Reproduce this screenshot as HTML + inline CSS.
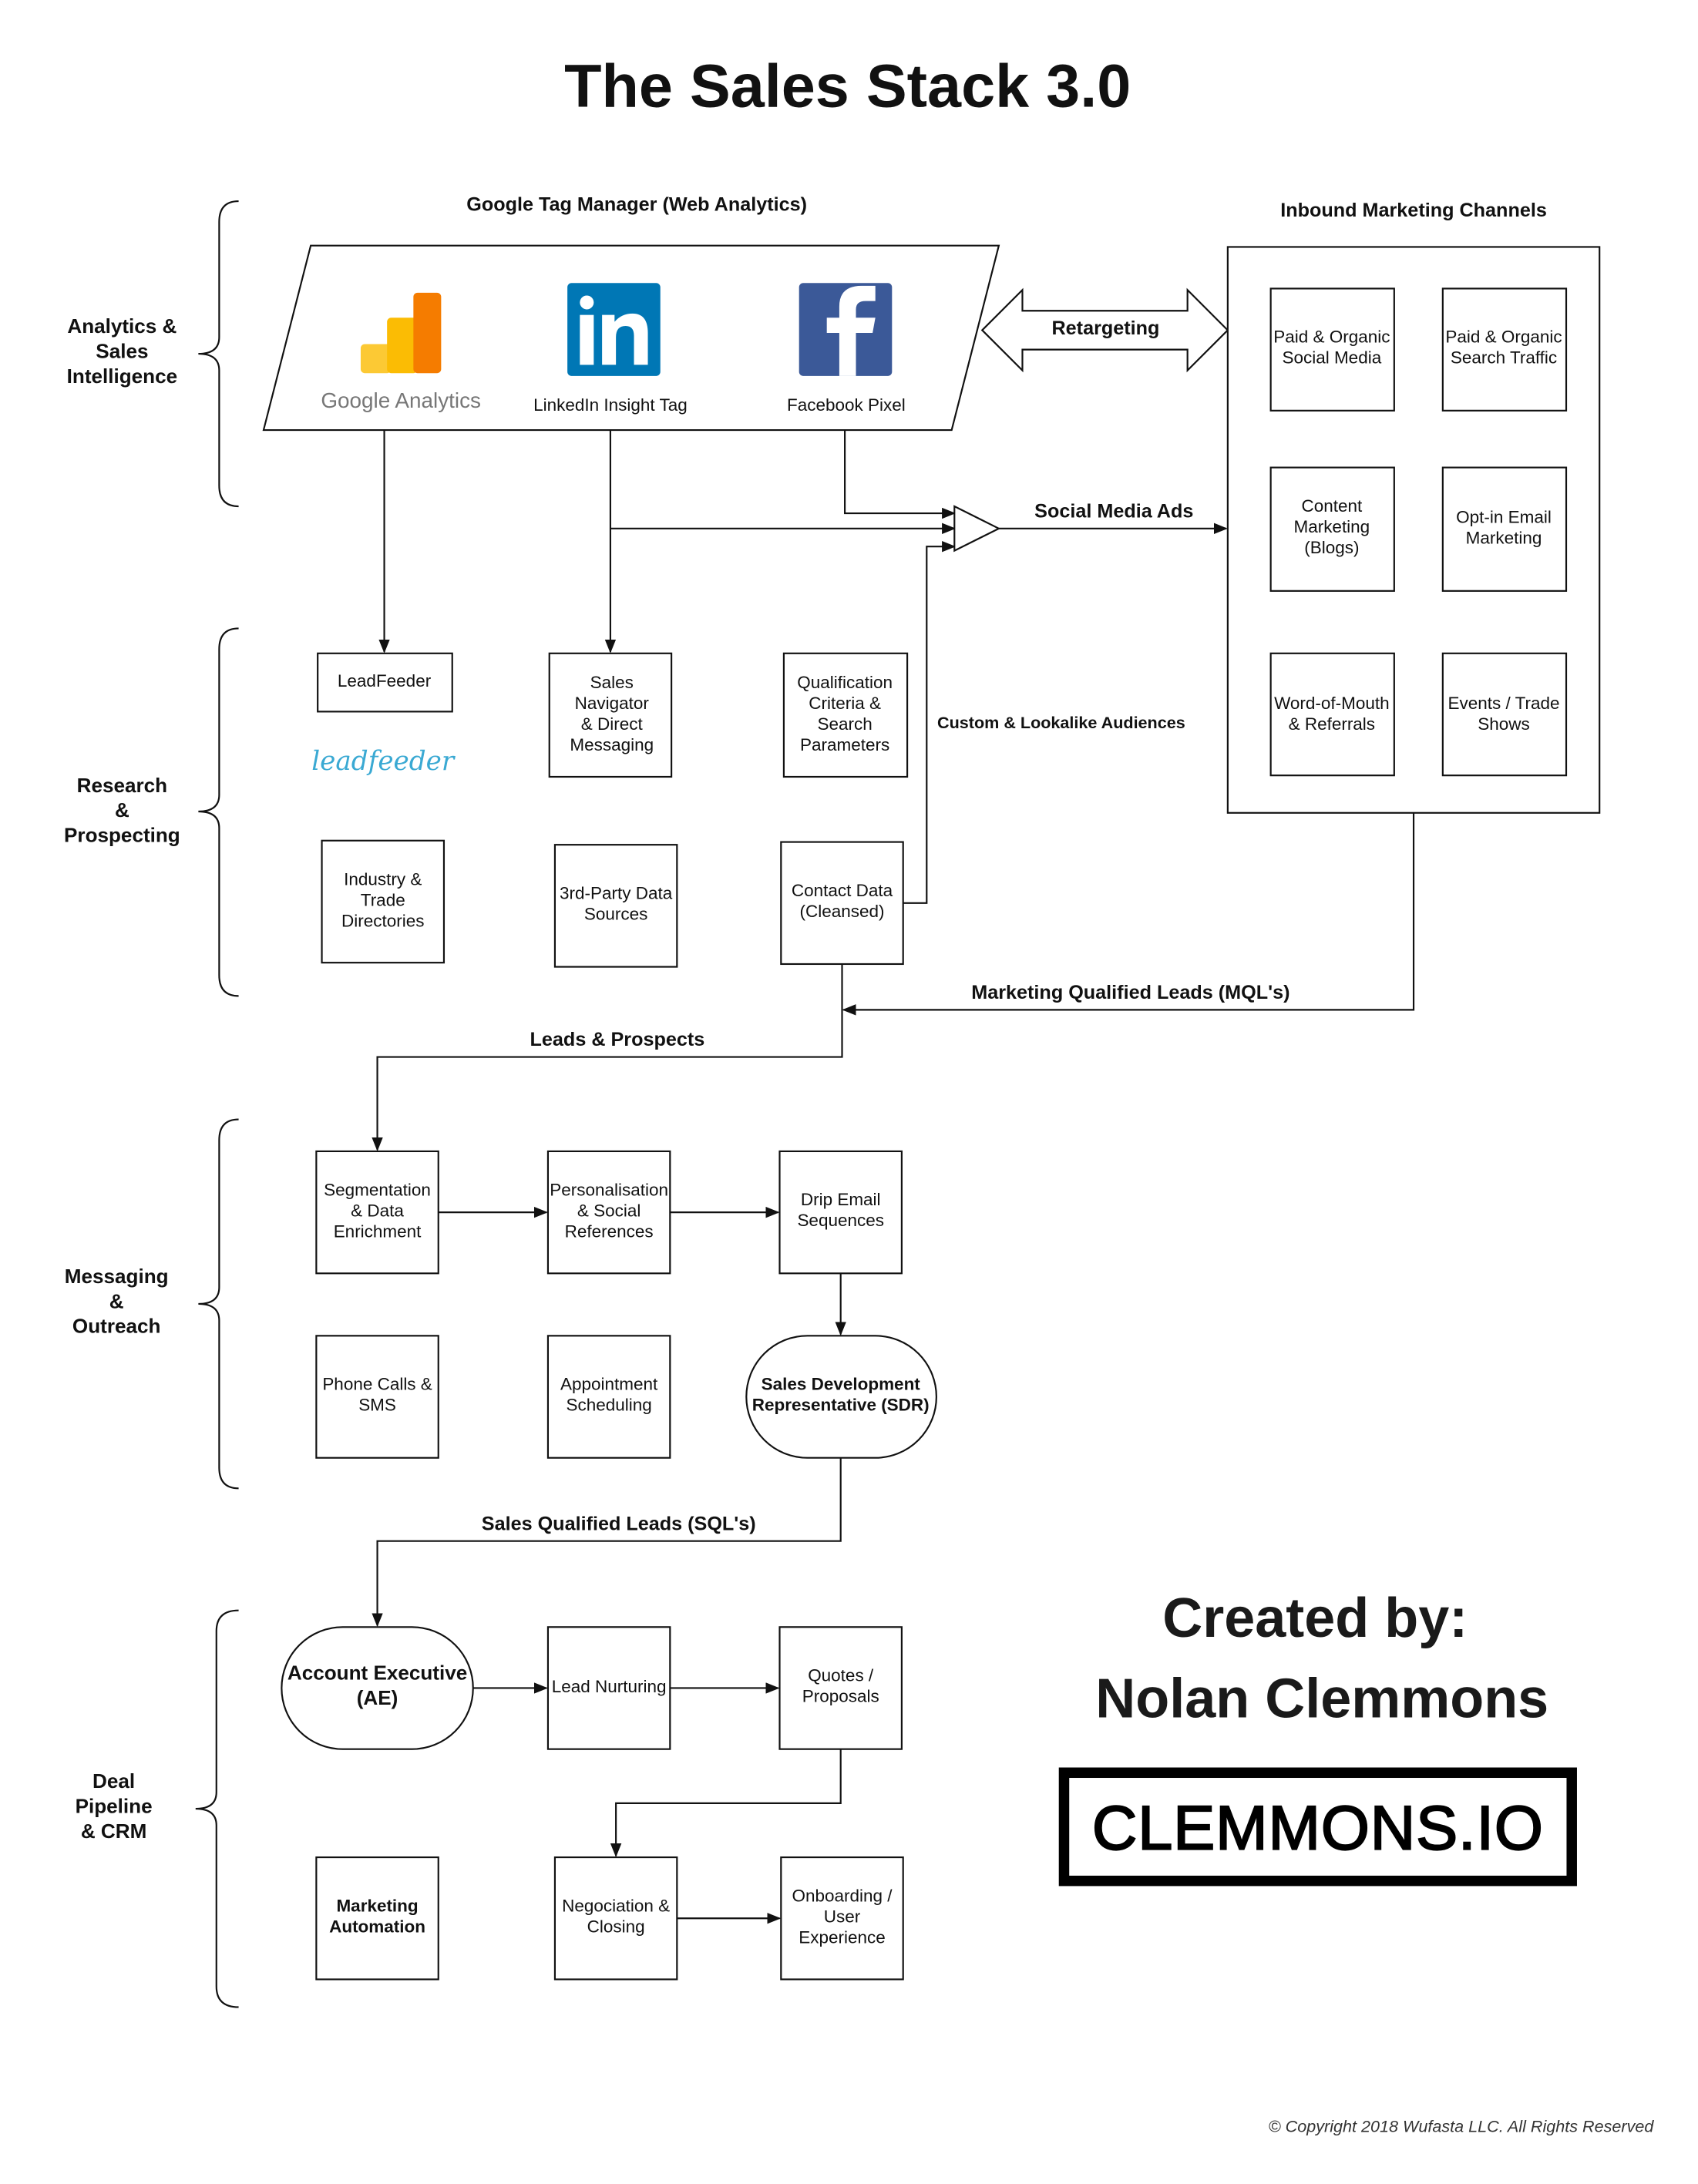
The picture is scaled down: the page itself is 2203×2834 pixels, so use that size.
<!DOCTYPE html>
<html><head><meta charset="utf-8"><style>
html,body{margin:0;padding:0;background:#fff}
svg{display:block}
text{font-family:"Liberation Sans",Arial,sans-serif;fill:#111}
.b{font-weight:bold}
.s{font-size:12.5px}
.box{fill:#fff;stroke:#111;stroke-width:1.2}
.ln{fill:none;stroke:#111;stroke-width:1.2}
</style></head><body>
<svg width="2203" height="2834" viewBox="0 0 1224 1574.5" xmlns="http://www.w3.org/2000/svg">
<defs><marker id="a" markerWidth="10" markerHeight="8" refX="9" refY="4" orient="auto" markerUnits="userSpaceOnUse"><path d="M0,0 L10,4 L0,8 z" fill="#111"/></marker></defs>
<rect width="1224" height="1575" fill="#fff"/>
<text x="611" y="77" text-anchor="middle" class="b" font-size="44">The Sales Stack 3.0</text>

<g class="ln" stroke-width="1.3">
<path d="M172,145 Q158,145 158,160 L158,243 Q158,255 143,255 Q158,255 158,267 L158,350 Q158,365 172,365"/>
<path d="M172,453 Q158,453 158,468 L158,573 Q158,585 143,585 Q158,585 158,597 L158,703 Q158,718 172,718"/>
<path d="M172,807 Q158,807 158,822 L158,928 Q158,940 143,940 Q158,940 158,952 L158,1058 Q158,1073 172,1073"/>
<path d="M172,1161 Q156,1161 156,1176 L156,1292 Q156,1304 141,1304 Q156,1304 156,1316 L156,1432 Q156,1447 172,1447"/>
</g>
<g class="b" font-size="14.5" text-anchor="middle">
<text x="88" y="240">Analytics &amp;</text><text x="88" y="258">Sales</text><text x="88" y="276">Intelligence</text>
<text x="88" y="571">Research</text><text x="88" y="589">&amp;</text><text x="88" y="607">Prospecting</text>
<text x="84" y="925">Messaging</text><text x="84" y="943">&amp;</text><text x="84" y="961">Outreach</text>
<text x="82" y="1289">Deal</text><text x="82" y="1307">Pipeline</text><text x="82" y="1325">&amp; CRM</text>
</g>

<text x="459" y="152" text-anchor="middle" class="b" font-size="14">Google Tag Manager (Web Analytics)</text>
<path d="M224,177 L720,177 L686,310 L190,310 Z" class="box" stroke-width="1.5"/>
<rect x="260" y="248" width="22" height="21" rx="3" fill="#fcc934"/>
<rect x="279" y="229" width="22" height="40" rx="3" fill="#fbbc04"/>
<rect x="298" y="211" width="20" height="58" rx="3" fill="#f57c00"/>
<text x="289" y="294" text-anchor="middle" font-size="15.5" style="fill:#777">Google Analytics</text>
<rect x="409" y="204" width="67" height="67" rx="3" fill="#0077B5"/>
<circle cx="423" cy="218" r="5" fill="#fff"/>
<rect x="418" y="227" width="10" height="36" fill="#fff"/>
<path d="M434,227 h9 v5 q5,-6 13,-6 q11,0 11,14 v23 h-10 v-21 q0,-7 -6,-7 q-7,0 -7,8 v20 h-10 z" fill="#fff"/>
<text x="440" y="296" text-anchor="middle" class="s">LinkedIn Insight Tag</text>
<rect x="576" y="204" width="67" height="67" rx="3" fill="#3B5998"/>
<path d="M605,271 v-31 h-9 v-11 h9 v-8 q0,-15 16,-15 h10 v11 h-7 q-7,0 -7,6 v6 h14 l-2,11 h-12 v31 z" fill="#fff"/>
<text x="610" y="296" text-anchor="middle" class="s">Facebook Pixel</text>

<path d="M708,238 L737,209 L737,224 L856,224 L856,209 L885,238 L856,267 L856,252 L737,252 L737,267 Z" class="box"/>
<text x="797" y="241" text-anchor="middle" class="b" font-size="14">Retargeting</text>

<text x="1019" y="156" text-anchor="middle" class="b" font-size="14">Inbound Marketing Channels</text>
<rect x="885" y="178" width="268" height="408" class="box"/>
<g class="box">
<rect x="916" y="208" width="89" height="88"/><rect x="1040" y="208" width="89" height="88"/>
<rect x="916" y="337" width="89" height="89"/><rect x="1040" y="337" width="89" height="89"/>
<rect x="916" y="471" width="89" height="88"/><rect x="1040" y="471" width="89" height="88"/>
</g>
<g class="s" text-anchor="middle">
<text x="960" y="247">Paid &amp; Organic</text><text x="960" y="262">Social Media</text>
<text x="1084" y="247">Paid &amp; Organic</text><text x="1084" y="262">Search Traffic</text>
<text x="960" y="369">Content</text><text x="960" y="384">Marketing</text><text x="960" y="399">(Blogs)</text>
<text x="1084" y="377">Opt-in Email</text><text x="1084" y="392">Marketing</text>
<text x="960" y="511">Word-of-Mouth</text><text x="960" y="526">&amp; Referrals</text>
<text x="1084" y="511">Events / Trade</text><text x="1084" y="526">Shows</text>
</g>

<g class="ln">
<path d="M277,310 V470" marker-end="url(#a)"/>
<path d="M440,310 V470" marker-end="url(#a)"/>
<path d="M440,381 H688" marker-end="url(#a)"/>
<path d="M609,310 V370 H688" marker-end="url(#a)"/>
<path d="M720,381 H884" marker-end="url(#a)"/>
<path d="M651,651 H668 V394 H688" marker-end="url(#a)"/>
<path d="M1019,586 V728 H608" marker-end="url(#a)"/>
<path d="M607,695 V762 H272 V829" marker-end="url(#a)"/>
</g>
<path d="M688,365 L688,397 L720,381 Z" class="box"/>
<text x="803" y="373" text-anchor="middle" class="b" font-size="14">Social Media Ads</text>
<text x="765" y="525" text-anchor="middle" class="b" font-size="12">Custom &amp; Lookalike Audiences</text>
<text x="815" y="720" text-anchor="middle" class="b" font-size="14">Marketing Qualified Leads (MQL's)</text>
<text x="445" y="754" text-anchor="middle" class="b" font-size="14">Leads &amp; Prospects</text>

<g class="box">
<rect x="229" y="471" width="97" height="42"/>
<rect x="396" y="471" width="88" height="89"/>
<rect x="565" y="471" width="89" height="89"/>
<rect x="232" y="606" width="88" height="88"/>
<rect x="400" y="609" width="88" height="88"/>
<rect x="563" y="607" width="88" height="88"/>
</g>
<g class="s" text-anchor="middle">
<text x="277" y="495">LeadFeeder</text>
<text x="441" y="496">Sales</text><text x="441" y="511">Navigator</text><text x="441" y="526">&amp; Direct</text><text x="441" y="541">Messaging</text>
<text x="609" y="496">Qualification</text><text x="609" y="511">Criteria &amp;</text><text x="609" y="526">Search</text><text x="609" y="541">Parameters</text>
<text x="276" y="638">Industry &amp;</text><text x="276" y="653">Trade</text><text x="276" y="668">Directories</text>
<text x="444" y="648">3rd-Party Data</text><text x="444" y="663">Sources</text>
<text x="607" y="646">Contact Data</text><text x="607" y="661">(Cleansed)</text>
</g>
<text x="276" y="555" text-anchor="middle" font-size="19" font-style="italic" style="fill:#3aa9d3;font-family:'DejaVu Serif',serif">leadfeeder</text>

<g class="box">
<rect x="228" y="830" width="88" height="88"/>
<rect x="395" y="830" width="88" height="88"/>
<rect x="562" y="830" width="88" height="88"/>
<rect x="228" y="963" width="88" height="88"/>
<rect x="395" y="963" width="88" height="88"/>
<rect x="538" y="963" width="137" height="88" rx="44"/>
</g>
<g class="ln">
<path d="M316,874 H394" marker-end="url(#a)"/>
<path d="M483,874 H561" marker-end="url(#a)"/>
<path d="M606,918 V962" marker-end="url(#a)"/>
<path d="M606,1051 V1111 H272 V1172" marker-end="url(#a)"/>
</g>
<g class="s" text-anchor="middle">
<text x="272" y="862">Segmentation</text><text x="272" y="877">&amp; Data</text><text x="272" y="892">Enrichment</text>
<text x="439" y="862">Personalisation</text><text x="439" y="877">&amp; Social</text><text x="439" y="892">References</text>
<text x="606" y="869">Drip Email</text><text x="606" y="884">Sequences</text>
<text x="272" y="1002">Phone Calls &amp;</text><text x="272" y="1017">SMS</text>
<text x="439" y="1002">Appointment</text><text x="439" y="1017">Scheduling</text>
<text x="606" y="1002" class="b">Sales Development</text><text x="606" y="1017" class="b">Representative (SDR)</text>
</g>
<text x="446" y="1103" text-anchor="middle" class="b" font-size="14">Sales Qualified Leads (SQL's)</text>

<g class="box">
<rect x="203" y="1173" width="138" height="88" rx="44"/>
<rect x="395" y="1173" width="88" height="88"/>
<rect x="562" y="1173" width="88" height="88"/>
<rect x="228" y="1339" width="88" height="88"/>
<rect x="400" y="1339" width="88" height="88"/>
<rect x="563" y="1339" width="88" height="88"/>
</g>
<g class="ln">
<path d="M341,1217 H394" marker-end="url(#a)"/>
<path d="M483,1217 H561" marker-end="url(#a)"/>
<path d="M606,1261 V1300 H444 V1338" marker-end="url(#a)"/>
<path d="M488,1383 H562" marker-end="url(#a)"/>
</g>
<text x="272" y="1211" text-anchor="middle" class="b" font-size="14.5">Account Executive</text>
<text x="272" y="1229" text-anchor="middle" class="b" font-size="14.5">(AE)</text>
<g class="s" text-anchor="middle">
<text x="439" y="1220">Lead Nurturing</text>
<text x="606" y="1212">Quotes /</text><text x="606" y="1227">Proposals</text>
<text x="272" y="1378" class="b">Marketing</text><text x="272" y="1393" class="b">Automation</text>
<text x="444" y="1378">Negociation &amp;</text><text x="444" y="1393">Closing</text>
<text x="607" y="1371">Onboarding /</text><text x="607" y="1386">User</text><text x="607" y="1401">Experience</text>
</g>

<text x="948" y="1180" text-anchor="middle" class="b" font-size="40" style="fill:#1a1a1a">Created by:</text>
<text x="953" y="1238" text-anchor="middle" class="b" font-size="40" style="fill:#1a1a1a">Nolan Clemmons</text>
<rect x="767" y="1278" width="366" height="78" fill="none" stroke="#000" stroke-width="7.5"/>
<text x="950" y="1333" text-anchor="middle" font-size="45" letter-spacing="0.5" style="fill:#000;stroke:#000;stroke-width:1.2">CLEMMONS.IO</text>
<text x="1192" y="1537" text-anchor="end" font-size="12" font-style="italic" style="fill:#333">© Copyright 2018 Wufasta LLC. All Rights Reserved</text>
</svg>
</body></html>
